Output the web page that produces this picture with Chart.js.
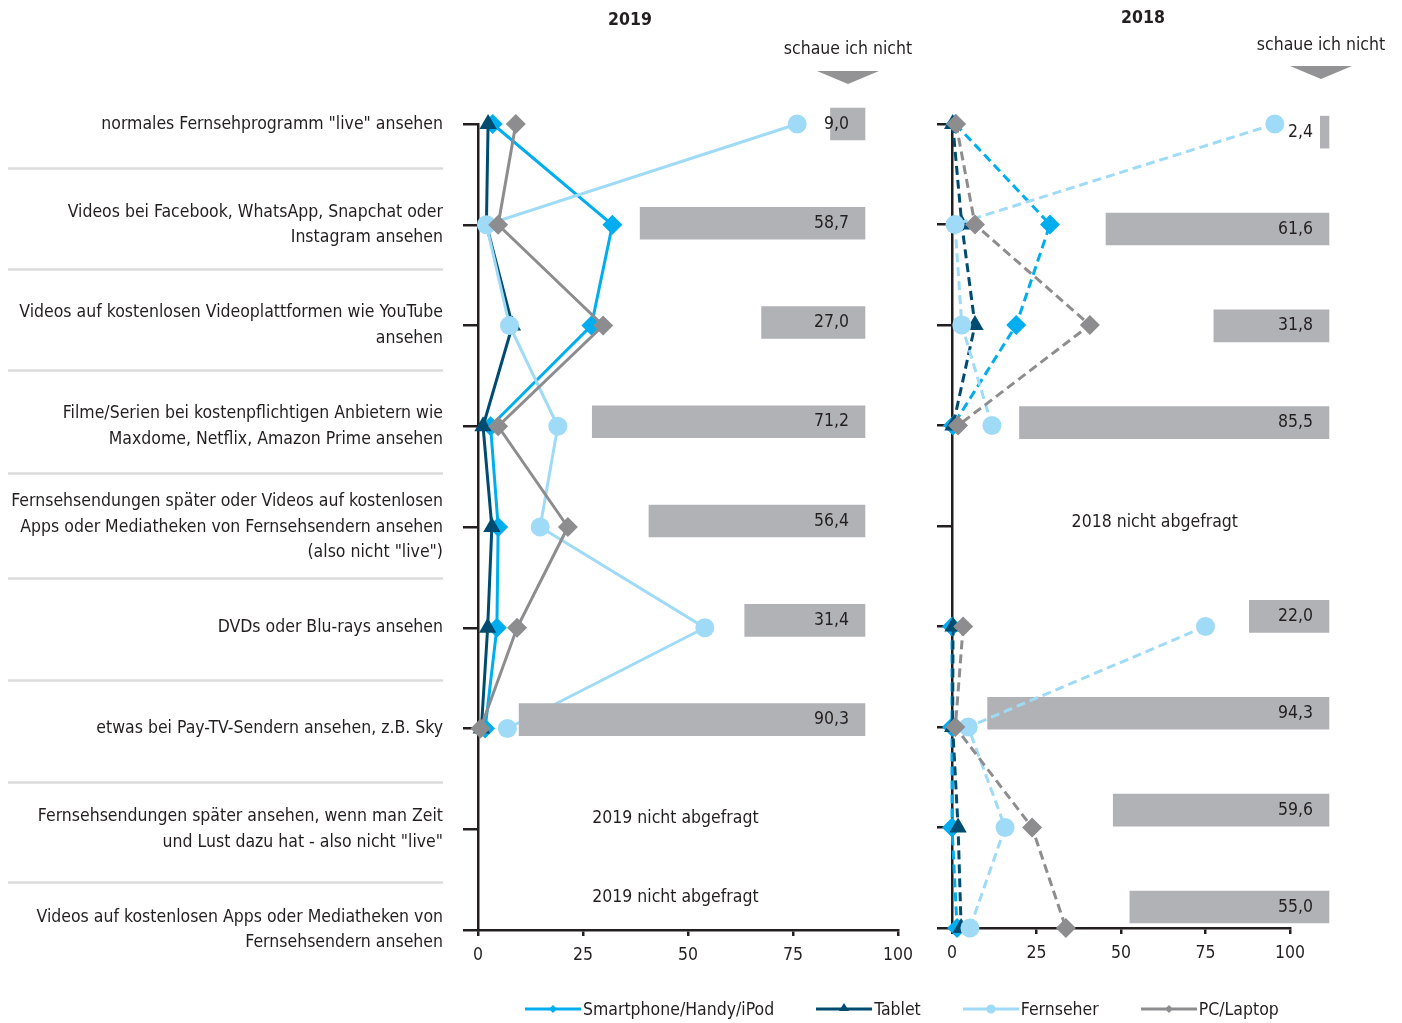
<!DOCTYPE html>
<html lang="de">
<head>
<meta charset="utf-8">
<title>Videonutzung 2019 / 2018</title>
<script src="https://cdn.jsdelivr.net/npm/chart.js@4.4.1/dist/chart.umd.min.js"></script>
<style>
  html, body { margin: 0; padding: 0; background: #fff; }
  body {
    width: 1402px; height: 1023px; position: relative; overflow: hidden;
    font-family: "Liberation Sans Narrow", "DejaVu Sans Condensed", sans-serif;
    color: #231f20;
  }
  #c2019 { position: absolute; left: 0; top: 0; }
  #c2018 { position: absolute; left: 930px; top: 0; }
  .legend { position: absolute; left: 525px; top: 998px; display: flex; gap: 42px; font-size: 17.5px; line-height: 22px; }
  .legend .item { display: flex; align-items: center; }
  .legend svg { margin-right: 2px; }
</style>
</head>
<body>
<canvas id="c2019" width="930" height="1023"></canvas>
<canvas id="c2018" width="472" height="1023"></canvas>
<div class="legend" id="legend"></div>

<script>
// Kategorien (Zeilen von oben nach unten)
const categories = [
  ['normales Fernsehprogramm "live" ansehen'],
  ['Videos bei Facebook, WhatsApp, Snapchat oder', 'Instagram ansehen'],
  ['Videos auf kostenlosen Videoplattformen wie YouTube', 'ansehen'],
  ['Filme/Serien bei kostenpflichtigen Anbietern wie', 'Maxdome, Netflix, Amazon Prime ansehen'],
  ['Fernsehsendungen später oder Videos auf kostenlosen', 'Apps oder Mediatheken von Fernsehsendern ansehen', '(also nicht "live")'],
  ['DVDs oder Blu-rays ansehen'],
  ['etwas bei Pay-TV-Sendern ansehen, z.B. Sky'],
  ['Fernsehsendungen später ansehen, wenn man Zeit', 'und Lust dazu hat - also nicht "live"'],
  ['Videos auf kostenlosen Apps oder Mediatheken von', 'Fernsehsendern ansehen']
];
const seriesNames = ['Smartphone/Handy/iPod', 'Tablet', 'Fernseher', 'PC/Laptop'];
const xTicks = [0, 25, 50, 75, 100];

// 2019 (null = nicht abgefragt)
const smartphone2019 = [3.5, 32, 27, 3, 4.8, 4.5, 1.7, null, null];
const tablet2019     = [2.4, 2, 8.2, 1.2, 3.3, 2.3, 0.8, null, null];
const fernseher2019  = [76, 2, 7.5, 19, 14.8, 54, 7, null, null];
const pc2019         = [9, 4.8, 29.8, 4.8, 21.4, 9.3, 0.6, null, null];
const nicht2019      = [9.0, 58.7, 27.0, 71.2, 56.4, 31.4, 90.3, null, null];

// 2018
const smartphone2018 = [1, 29, 19, 0.3, null, 0, 0, 0, 1.5];
const tablet2018     = [0.2, 2.9, 6.8, 0.3, null, 0.3, 0.2, 1.8, 2.7];
const fernseher2018  = [95.5, 0.9, 2.9, 11.8, null, 75, 4.8, 15.7, 5.3];
const pc2018         = [1.2, 6.8, 40.8, 1.8, null, 3.3, 1, 23.7, 33.7];
const nicht2018      = [2.4, 61.6, 31.8, 85.5, null, 22.0, 94.3, 59.6, 55.0];

const FONT = '"Liberation Sans Narrow", "DejaVu Sans Condensed", sans-serif';
const FS = 17.5;
const INK = '#231f20';
const colors = ['#00aeef', '#004c70', '#9fdbf6', '#8d8d90'];
const styles = ['rectRot', 'triangle', 'circle', 'rectRot'];
const radii = [10, 10, 9.5, 10];
const barColor = '#b1b2b6';

Chart.defaults.font.family = FONT;
Chart.defaults.font.size = FS;
Chart.defaults.color = INK;

function points(values) {
  return values.map((v, i) => ({ x: v, y: i }));
}

function lineDatasets(series, dashed) {
  // zeichenreihenfolge: PC oben, dann Fernseher, Tablet, Smartphone
  return series.map((values, s) => ({
    type: 'line',
    label: seriesNames[s],
    data: points(values),
    borderColor: colors[s],
    backgroundColor: colors[s],
    borderWidth: 3,
    borderDash: dashed ? [9, 5] : [],
    pointStyle: styles[s],
    pointRadius: radii[s],
    pointHoverRadius: radii[s],
    pointBorderWidth: 0,
    tension: 0,
    spanGaps: false,
    clip: false,
    order: 4 - s
  }));
}

function barDataset(values, order) {
  return {
    type: 'bar',
    label: 'schaue ich nicht',
    indexAxis: 'y',
    xAxisID: 'xBar',
    yAxisID: 'yBar',
    data: points(values).filter(p => p.x !== null),
    backgroundColor: barColor,
    borderWidth: 0,
    grouped: false,
    barThickness: 32,
    maxBarThickness: 32,
    clip: false,
    order: order
  };
}

// Beschriftungen, Titel, Trenner
const decor = {
  id: 'decor',
  afterDatasetsDraw(chart, args, o) {
    const { ctx, scales } = chart;
    ctx.save();
    ctx.fillStyle = INK;
    ctx.textBaseline = 'middle';

    // Werte in den Balken
    ctx.font = FS + 'px ' + FONT;
    ctx.textAlign = 'right';
    chart.data.datasets.forEach((ds, di) => {
      if (ds.type !== 'bar') return;
      chart.getDatasetMeta(di).data.forEach((bar, i) => {
        ctx.fillText(ds.data[i].x.toFixed(1).replace('.', ','), bar.base - 16, bar.y);
      });
    });

    // Jahr
    ctx.textAlign = 'center';
    ctx.font = 'bold ' + FS + 'px ' + FONT;
    ctx.fillText(o.title, o.titleX, o.titleY);

    // "schaue ich nicht" + Pfeil
    ctx.font = FS + 'px ' + FONT;
    ctx.fillText('schaue ich nicht', o.headX, o.headY);
    ctx.fillStyle = '#939396';
    ctx.beginPath();
    ctx.moveTo(o.headX - 31, o.triY);
    ctx.lineTo(o.headX + 31, o.triY);
    ctx.lineTo(o.headX, o.triY + 13);
    ctx.closePath();
    ctx.fill();

    // nicht abgefragt
    ctx.fillStyle = INK;
    o.notAsked.forEach(n => {
      ctx.fillText(n.text, scales.x.getPixelForValue(n.x), scales.y.getPixelForValue(n.row) + n.dy);
    });

    // Trennlinien zwischen den Kategorien
    if (o.separators) {
      ctx.strokeStyle = '#dcdcdc';
      ctx.lineWidth = 2.5;
      o.separators.forEach(s => {
        const y = Math.round(scales.y.getPixelForValue(s)) + 0.5;
        ctx.beginPath();
        ctx.moveTo(8, y);
        ctx.lineTo(443, y);
        ctx.stroke();
      });
    }
    ctx.restore();
  }
};

function axisX(height) {
  return {
    type: 'linear', position: 'bottom', min: 0, max: 100,
    afterBuildTicks: s => { s.ticks = xTicks.map(v => ({ value: v })); },
    ticks: { autoSkip: false, maxRotation: 0, padding: 9, color: INK, font: { size: FS } },
    grid: { drawOnChartArea: false, drawTicks: true, tickLength: 6, color: INK, lineWidth: 2.5 },
    border: { display: true, color: INK, width: 2.5 },
    afterFit: s => { s.height = height; }
  };
}

function axisY(width, withLabels) {
  return {
    type: 'linear', position: 'left', reverse: true, min: 0, max: 8,
    ticks: {
      stepSize: 1, autoSkip: false, padding: 20, color: INK,
      font: { size: FS, lineHeight: 1.46 },
      callback: v => withLabels ? categories[v] : ''
    },
    grid: { drawOnChartArea: false, drawTicks: true, tickLength: 15, color: INK, lineWidth: 2.5 },
    border: { display: true, color: INK, width: 2.5 },
    afterFit: s => { s.width = width; }
  };
}

// 2019
new Chart(document.getElementById('c2019'), {
  type: 'line',
  data: {
    datasets: [
      ...lineDatasets([smartphone2019, tablet2019, fernseher2019, pc2019], false),
      barDataset(nicht2019, 0)
    ]
  },
  options: {
    responsive: false,
    animation: false,
    events: [],
    layout: { padding: { left: 0, right: 32, top: 124, bottom: 53 } },
    plugins: {
      legend: { display: false },
      tooltip: { enabled: false },
      decor: {
        title: '2019', titleX: 630, titleY: 20,
        headX: 848, headY: 49, triY: 71,
        notAsked: [
          { text: '2019 nicht abgefragt', x: 47, row: 7, dy: -11 },
          { text: '2019 nicht abgefragt', x: 47, row: 8, dy: -33 }
        ],
        separators: [0.437, 1.439, 2.442, 3.464, 4.506, 5.519, 6.531, 7.524]
      }
    },
    scales: {
      x: axisX(40),
      y: axisY(478, true),
      xBar: { type: 'linear', axis: 'x', position: 'bottom', display: false, reverse: true, min: -8.62, max: 101.04 },
      yBar: { type: 'linear', axis: 'y', position: 'left', display: false, reverse: true, min: 0, max: 8.12, offset: false, grid: { offset: false } }
    }
  },
  plugins: [decor]
});

// 2018
new Chart(document.getElementById('c2018'), {
  type: 'line',
  data: {
    datasets: [
      ...lineDatasets([smartphone2018, tablet2018, fernseher2018, pc2018], true),
      barDataset(nicht2018, 10)
    ]
  },
  options: {
    responsive: false,
    animation: false,
    events: [],
    layout: { padding: { left: 0, right: 112, top: 124, bottom: 55 } },
    plugins: {
      legend: { display: false },
      tooltip: { enabled: false },
      decor: {
        title: '2018', titleX: 213, titleY: 18,
        headX: 391, headY: 45, triY: 66,
        notAsked: [
          { text: '2018 nicht abgefragt', x: 60, row: 4, dy: -4 }
        ]
      }
    },
    scales: {
      x: axisX(40),
      y: axisY(22, false),
      xBar: { type: 'linear', axis: 'x', position: 'bottom', display: false, reverse: true, min: 10.77, max: 104.14 },
      yBar: { type: 'linear', axis: 'y', position: 'left', display: false, reverse: true, min: -0.084, max: 8.217, offset: false, grid: { offset: false } }
    }
  },
  plugins: [decor]
});

// Legende
function marker(s) {
  const c = colors[s];
  if (styles[s] === 'triangle') return `<polygon points="28,5 33,13 23,13" fill="${c}"/>`;
  if (styles[s] === 'circle') return `<circle cx="28" cy="11" r="4.5" fill="${c}"/>`;
  return `<polygon points="28,7 32,11 28,15 24,11" fill="${c}"/>`;
}
document.getElementById('legend').innerHTML = seriesNames.map((name, s) =>
  `<div class="item"><svg width="56" height="22"><line x1="0" y1="11" x2="56" y2="11" stroke="${colors[s]}" stroke-width="3"/>${marker(s)}</svg><span>${name}</span></div>`
).join('');
</script>
</body>
</html>
